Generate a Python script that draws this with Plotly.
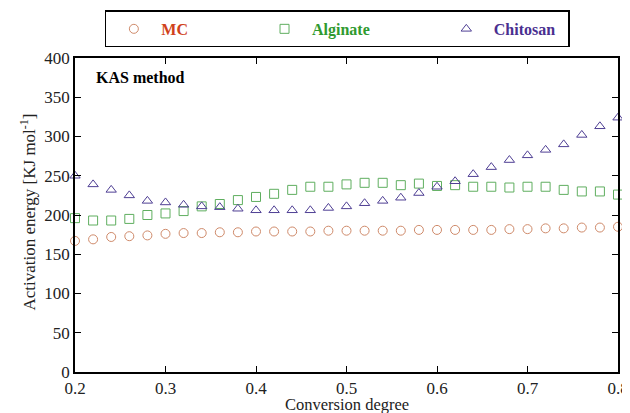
import plotly.graph_objects as go

conversion = [round(0.2 + 0.02 * i, 2) for i in range(31)]

mc = [167, 169, 172, 173, 174, 176, 177, 177, 178, 178, 179, 179, 179, 179, 180, 180,
      180, 180, 180, 181, 181, 181, 181, 181, 182, 182, 183, 183, 184, 184, 185]
alginate = [196, 193, 193, 195, 200, 202, 205, 211, 214, 219, 223, 227, 232, 236, 236, 239,
            241, 241, 238, 240, 237, 238, 236, 236, 235, 236, 236, 232, 230, 230, 226]
chitosan = [250, 239, 232, 225, 218, 216, 213, 211, 210, 208, 206, 206, 206, 206, 209, 211,
            215, 218, 222, 228, 236, 243, 252, 261, 270, 276, 283, 290, 302, 313, 324]

series = [
    ("MC", mc, "circle-open", "#cf8a6a", "#d0421b"),
    ("Alginate", alginate, "square-open", "#5fae5f", "#2f9a2f"),
    ("Chitosan", chitosan, "triangle-up-open", "#4f3f94", "#4a2f90"),
]
pad = {"MC": "&nbsp;" * 16, "Alginate": "&nbsp;" * 16, "Chitosan": "&nbsp;" * 2}

fig = go.Figure()
for name, vals, sym, mcol, tcol in series:
    fig.add_trace(go.Scatter(
        x=conversion, y=vals, mode="markers", cliponaxis=False,
        name=f"<span style='color:{tcol}'><b>{name}</b></span>{pad[name]}",
        marker=dict(symbol=sym, size=9, color=mcol, line=dict(width=1, color=mcol)),
    ))

fig.add_annotation(x=0.221, y=375, xref="x", yref="y", text="<b>KAS method</b>",
                   showarrow=False, xanchor="left", yanchor="middle",
                   font=dict(size=16, color="black"))

# axis titles as annotations so they sit where the original has them
fig.add_annotation(x=0.5, y=-0.104, xref="paper", yref="paper", text="Conversion degree",
                   showarrow=False, xanchor="center", yanchor="middle",
                   font=dict(size=16.5, color="#222"))
fig.add_annotation(x=-0.087, y=0.51, xref="paper", yref="paper",
                   text="Activation energy [KJ mol<sup>-1</sup>]", textangle=-90,
                   showarrow=False, xanchor="center", yanchor="middle",
                   font=dict(size=17, color="#222"))

axis_style = dict(showline=True, linecolor="black", linewidth=1.5, mirror="ticks",
                  ticks="inside", ticklen=6, tickcolor="black", showgrid=False,
                  zeroline=False, automargin=False, ticklabeloverflow="allow",
                  tickfont=dict(size=17, color="#222"))

fig.update_xaxes(range=[0.2, 0.8], dtick=0.1, tickformat=".1f", **axis_style)
fig.update_yaxes(range=[0, 400], dtick=50, **axis_style)

# the page body adds an 8px margin, so the figure is 8px smaller than the window
fig.update_layout(
    width=622, height=405,
    margin=dict(l=67, r=12, t=50, b=41),
    plot_bgcolor="white", paper_bgcolor="white",
    font=dict(family="Liberation Serif, Times New Roman, serif", color="#222"),
    legend=dict(orientation="h", x=0.055, y=0.994, xref="paper", yref="container",
                xanchor="left", yanchor="top", bordercolor="black", borderwidth=1.5,
                font=dict(size=16), itemwidth=45, bgcolor="white"),
)

fig.write_html("out.html")
